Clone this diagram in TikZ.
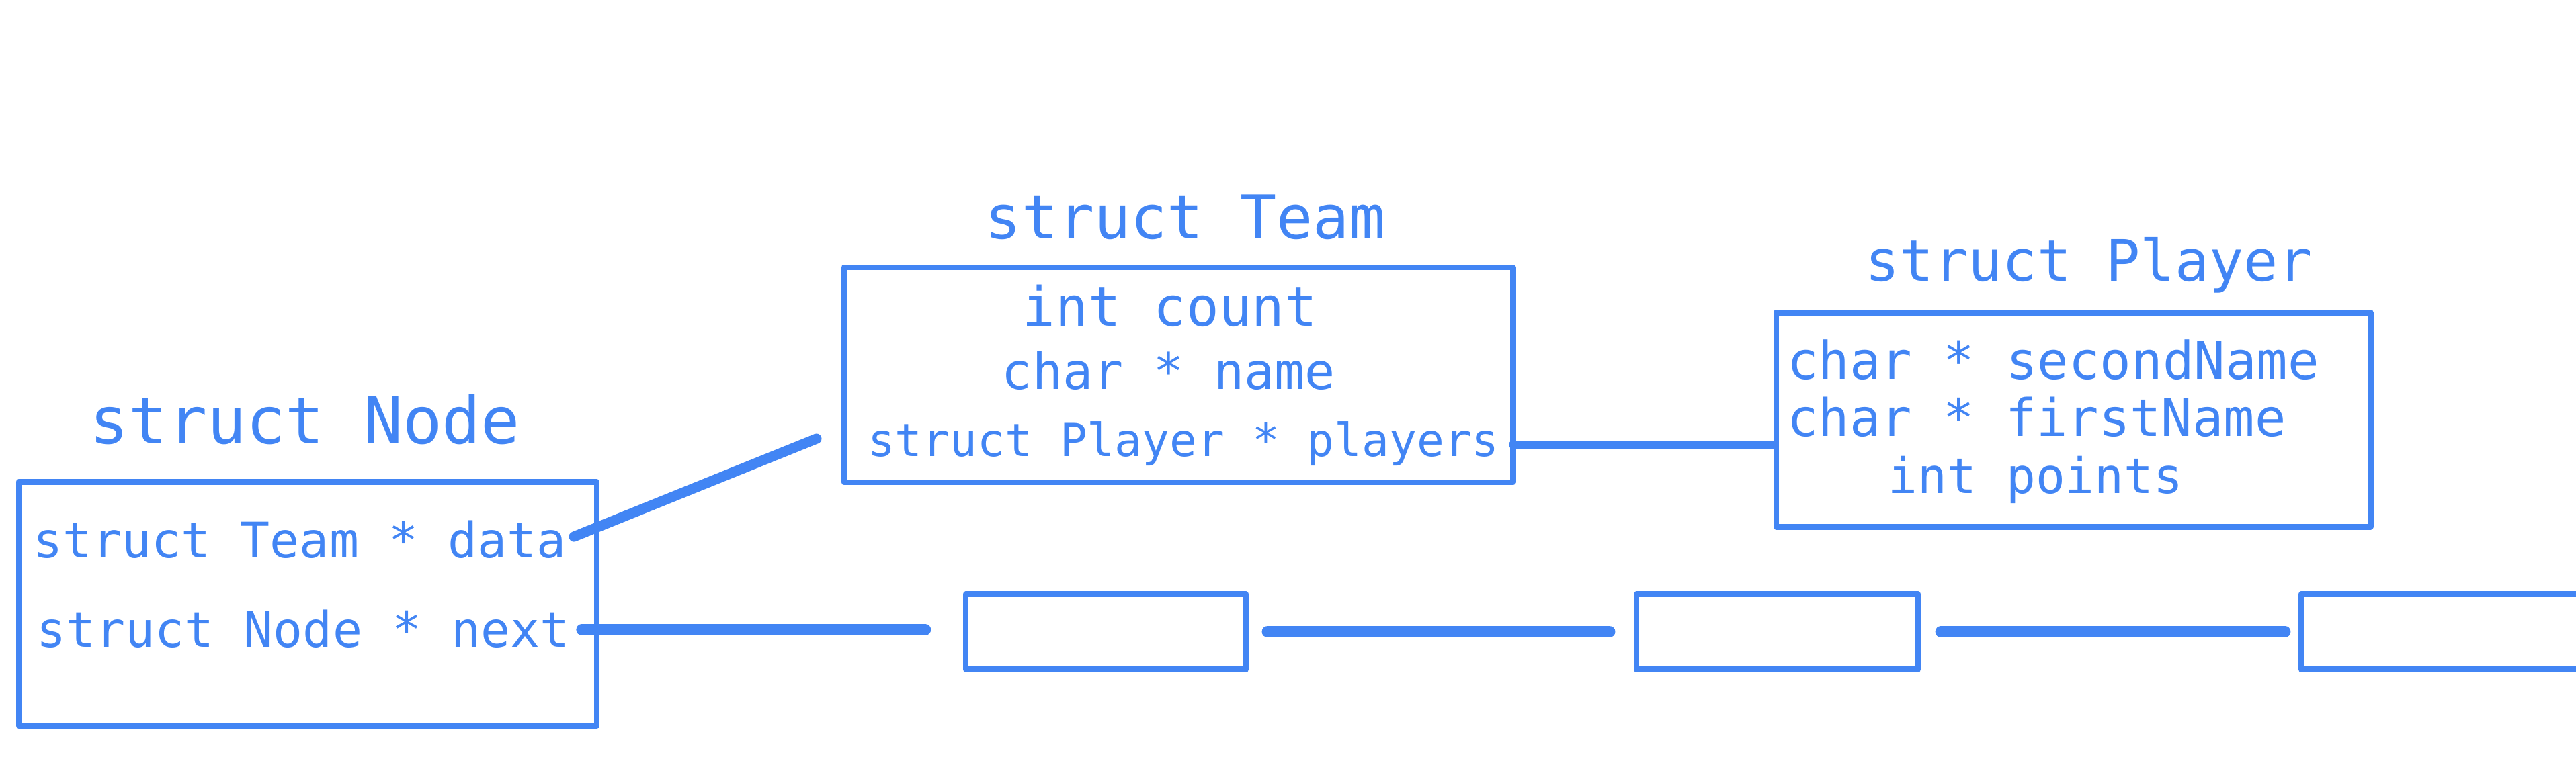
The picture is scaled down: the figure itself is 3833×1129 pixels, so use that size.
\documentclass[tikz,border=0pt]{standalone}
\usepackage{fontspec}
\setmonofont{DejaVu Sans Mono}
\usetikzlibrary{calc}
\definecolor{gblue}{HTML}{4285F4}

\begin{document}
\begin{tikzpicture}[x=0.01cm, y=-0.01cm,
    structbox/.style={draw=gblue, line width=2.4pt, line join=round, inner sep=0pt},
    member/.style={text=gblue, inner sep=0pt, anchor=base,
                   font=\ttfamily\fontsize{#1}{#1}\selectfont},
    link/.style={draw=gblue, line width=#1, line cap=round}]

          % --- 1. canvas ---
          \useasboundingbox (0,0) rectangle (3833,1129);
          \clip (0,0) rectangle (3833,1129);

          % --- 2. struct Node ---
          \node[member=27.5] (nodetitle) at (454,660) {struct Node};
          \node[structbox, minimum width=8.6cm, minimum height=3.63cm] (nodebox) at (458,899) {};
          \node[member=20.8] (data) at (446,830) {struct Team * data};
          \node[member=20.8] (next) at (451,963) {struct Node * next};

          % --- 3. struct Team ---
          \node[member=25.6] (teamtitle) at (1764,355) {struct Team};
          \node[structbox, minimum width=9.95cm, minimum height=3.2cm] (teambox) at (1753.5,558) {};
          \node[member=23] (count) at (1741,485) {int count};
          \node[member=21.3] (name) at (1739,579) {char * name};
          \node[member=19.3] (players) at (1761,679) {struct Player * players};

          % --- 4. struct Player ---
          \node[member=24.2] (playertitle) at (3108,418) {struct Player};
          \node[structbox, minimum width=8.84cm, minimum height=3.19cm] (playerbox) at (3085,625) {};
          \node[member=22] (second) at (3055,564) {char * secondName};
          \node[member=21.9] (first) at (3030.5,649) {char * firstName};
          \node[member=20.7] (points) at (3029,734) {int points};

          % --- 5. list cells ---
          \node[structbox, minimum width=4.17cm, minimum height=1.12cm] (cell1) at (1645.5,940.5) {};
          \node[structbox, minimum width=4.19cm, minimum height=1.12cm] (cell2) at (2644.5,940.5) {};
          \node[structbox, minimum width=4.18cm, minimum height=1.12cm] (cell3) at (3633,940.5) {};

          % --- 6. pointers ---
          \coordinate (dataptr) at (854,799);
          \coordinate (teamin) at (1215,653);
          \coordinate (nextptr) at (866,937.5);
          \coordinate (playersptr) at (2251,662);
          \draw[link=4.3pt] (dataptr) -- (teamin);
          \draw[link=3.4pt] (playersptr) -- (playersptr -| playerbox.west);
          \draw[link=4.9pt, shorten >=0.56cm] (nextptr) -- (nextptr -| cell1.west);
          \draw[link=5pt, shorten <=0.28cm, shorten >=0.36cm] (cell1) -- (cell2);
          \draw[link=5pt, shorten <=0.30cm, shorten >=0.20cm] (cell2) -- (cell3);

      \end{tikzpicture}
\end{document}
